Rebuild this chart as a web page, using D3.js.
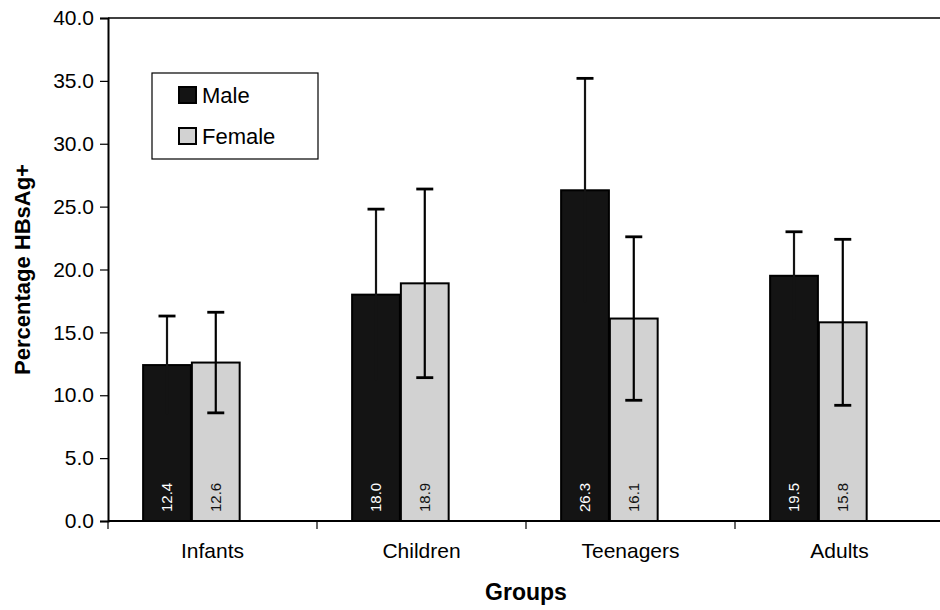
<!DOCTYPE html>
<html>
<head>
<meta charset="utf-8">
<script src="https://cdn.jsdelivr.net/npm/d3@7"></script>
<style>
  body { margin: 0; background: #fff; }
  svg { font-family: "Liberation Sans", Arial, sans-serif; }
</style>
</head>
<body>
<div id="chart"></div>
<script>
const groups = ["Infants", "Children", "Teenagers", "Adults"];
const series = ["Male", "Female"];
const maleValues = [12.4, 18.0, 26.3, 19.5];
const femaleValues = [12.6, 18.9, 16.1, 15.8];
const maleErrors = [3.9, 6.8, 8.9, 3.5];
const femaleErrors = [4.0, 7.5, 6.5, 6.6];
const yTicks = [0, 5, 10, 15, 20, 25, 30, 35, 40];

const colors = { Male: "#141414", Female: "#d2d2d2" };

const width = 940, height = 610;
const margin = { top: 18, right: -4, bottom: 89, left: 108 };
const innerW = width - margin.left - margin.right;
const innerH = height - margin.top - margin.bottom;

const svg = d3.select("#chart")
  .append("svg")
  .attr("width", width)
  .attr("height", height);

const g = svg.append("g")
  .attr("transform", `translate(${margin.left},${margin.top})`);

const x0 = d3.scaleBand().domain(groups).range([0, innerW]);
// bars sit left of the band centre (empty third slot in the original)
const bw = x0.bandwidth();
const x1 = d3.scaleBand().domain(series).range([bw * 0.168, bw * 0.63]).paddingInner(0.02);
const y = d3.scaleLinear().domain([0, 40]).range([innerH, 0]);

const rows = groups.map((grp, i) => ({
  group: grp,
  items: [
    { key: "Male", value: maleValues[i], err: maleErrors[i] },
    { key: "Female", value: femaleValues[i], err: femaleErrors[i] }
  ]
}));

// plot frame (top line, right side runs off the page)
g.append("line")
  .attr("x1", 0).attr("x2", innerW)
  .attr("y1", 0).attr("y2", 0)
  .attr("stroke", "#000").attr("stroke-width", 1.5);

// bars
const grp = g.selectAll(".grp")
  .data(rows)
  .enter()
  .append("g")
  .attr("class", "grp")
  .attr("transform", d => `translate(${x0(d.group)},0)`);

grp.selectAll("rect")
  .data(d => d.items)
  .enter()
  .append("rect")
  .attr("x", d => x1(d.key))
  .attr("y", d => y(d.value))
  .attr("width", x1.bandwidth())
  .attr("height", d => innerH - y(d.value))
  .attr("fill", d => colors[d.key])
  .attr("stroke", "#000")
  .attr("stroke-width", 2);

// error bars
const err = grp.selectAll(".err")
  .data(d => d.items)
  .enter()
  .append("g")
  .attr("class", "err")
  .attr("stroke", "#000")
  .attr("stroke-width", 2.2);

err.append("line")
  .attr("x1", d => x1(d.key) + x1.bandwidth() / 2)
  .attr("x2", d => x1(d.key) + x1.bandwidth() / 2)
  .attr("y1", d => y(d.value + d.err))
  .attr("y2", d => y(d.value - d.err))
  .attr("stroke", d => d.key === "Male" ? colors.Male : "#000");

err.append("line")
  .attr("x1", d => x1(d.key) + x1.bandwidth() / 2 - 8.5)
  .attr("x2", d => x1(d.key) + x1.bandwidth() / 2 + 8.5)
  .attr("y1", d => y(d.value + d.err))
  .attr("y2", d => y(d.value + d.err))
  .attr("stroke-width", 2.8);

err.filter(d => d.key === "Female").append("line")
  .attr("x1", d => x1(d.key) + x1.bandwidth() / 2 - 8.5)
  .attr("x2", d => x1(d.key) + x1.bandwidth() / 2 + 8.5)
  .attr("y1", d => y(d.value - d.err))
  .attr("y2", d => y(d.value - d.err))
  .attr("stroke-width", 2.8);

// value labels, rotated inside bars
grp.selectAll(".val")
  .data(d => d.items)
  .enter()
  .append("text")
  .attr("class", "val")
  .attr("transform", d => `translate(${x1(d.key) + x1.bandwidth() / 2 + 5},${innerH - 9}) rotate(-90)`)
  .attr("fill", d => d.key === "Male" ? "#fff" : "#111")
  .style("font-size", "15px")
  .text(d => d3.format(".1f")(d.value));

// y axis
const yAxis = g.append("g")
  .call(d3.axisLeft(y).tickValues(yTicks).tickFormat(d3.format(".1f")).tickSize(8).tickPadding(6));
yAxis.select(".domain").attr("stroke-width", 2);
yAxis.selectAll(".tick line").attr("stroke-width", 1.2);
yAxis.selectAll("text").style("font-size", "21px").attr("fill", "#000");

// x axis, ticks between categories
const xAxis = g.append("g")
  .attr("transform", `translate(0,${innerH})`);
xAxis.append("line")
  .attr("x1", 0).attr("x2", innerW)
  .attr("stroke", "#000").attr("stroke-width", 2);
xAxis.selectAll(".xt")
  .data(groups)
  .enter()
  .append("line")
  .attr("x1", d => x0(d)).attr("x2", d => x0(d))
  .attr("y1", 0).attr("y2", 8)
  .attr("stroke", "#000").attr("stroke-width", 1.2);
xAxis.selectAll(".xl")
  .data(groups)
  .enter()
  .append("text")
  .attr("x", d => x0(d) + bw / 2)
  .attr("y", 37)
  .attr("text-anchor", "middle")
  .style("font-size", "21px")
  .text(d => d);

// axis titles
svg.append("text")
  .attr("transform", `translate(30,${margin.top + innerH / 2}) rotate(-90)`)
  .attr("text-anchor", "middle")
  .style("font-size", "22px")
  .style("font-weight", "bold")
  .text("Percentage HBsAg+");

svg.append("text")
  .attr("x", 526)
  .attr("y", 600)
  .attr("text-anchor", "middle")
  .style("font-size", "23px")
  .style("font-weight", "bold")
  .text("Groups");

// legend
const legend = svg.append("g").attr("transform", "translate(152,73)");
legend.append("rect")
  .attr("width", 166).attr("height", 86)
  .attr("fill", "#fff").attr("stroke", "#000").attr("stroke-width", 1.2);
const li = legend.selectAll(".li")
  .data(series)
  .enter()
  .append("g")
  .attr("transform", (d, i) => `translate(27,${14 + i * 41})`);
li.append("rect")
  .attr("width", 17).attr("height", 16)
  .attr("fill", d => colors[d])
  .attr("stroke", "#000").attr("stroke-width", 2);
li.append("text")
  .attr("x", 23).attr("y", 16)
  .style("font-size", "22px")
  .text(d => d);
</script>
</body>
</html>
